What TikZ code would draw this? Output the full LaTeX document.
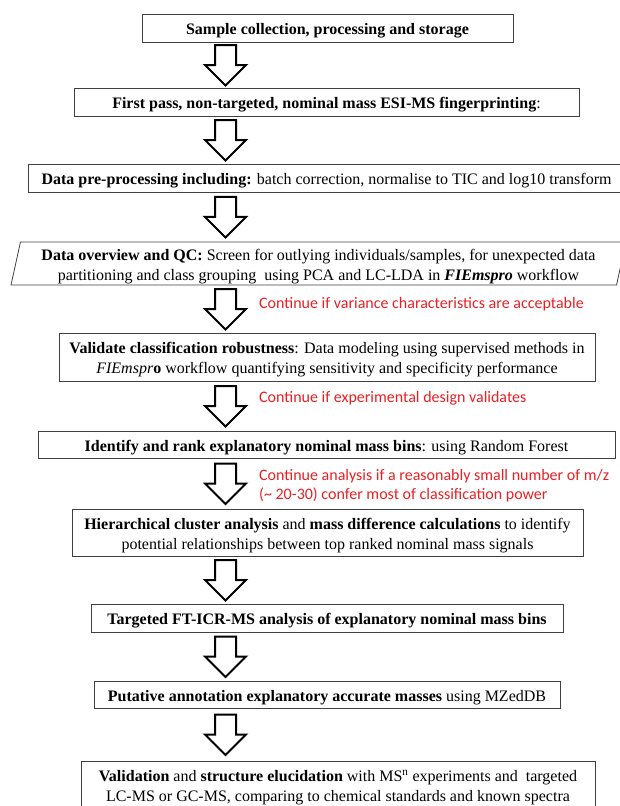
\documentclass[tikz,border=0pt]{standalone}
\usepackage{fontspec}
\setmainfont{Liberation Serif}
\newfontfamily\notefont{Carlito}
\usetikzlibrary{calc,shapes.geometric}
\definecolor{notered}{RGB}{232,32,36}

\tikzstyle{stage} = [draw=black!75,line width=0.8pt,align=center,inner sep=0pt,text height=13pt,text depth=0pt,font=\fontsize{16}{20}\selectfont]
\tikzstyle{stagetwo} = [stage,text height=33pt]
\tikzstyle{note} = [anchor=west,align=left,inner sep=0pt,text=notered,font=\notefont\fontsize{16}{19}\selectfont]
\tikzstyle{hollow} = [draw,line width=2pt,fill=white,
  to path={let \p1=(\tikztostart), \p2=(\tikztotarget), \n1={(\y1+\y2)/2} in
    (\x1-10.5pt,\n1+20pt) -- (\x1+10.5pt,\n1+20pt) -- (\x1+10.5pt,\n1) -- (\x1+20.5pt,\n1)
    -- (\x1,\n1-20.5pt) -- (\x1-20.5pt,\n1) -- (\x1-10.5pt,\n1) -- cycle}]

\begin{document}
\begin{tikzpicture}[x=1pt,y=-1pt]
		\useasboundingbox (0,0) rectangle (619,806);
		\coordinate (ax) at (225.5,0);
		\node[stage,minimum width=371,minimum height=28] (b1) at (327.5,28) {\textbf{Sample collection, processing and storage}};
		\node[stage,minimum width=505,minimum height=28] (b2) at (326.5,102) {\textbf{First pass, non-targeted, nominal mass ESI-MS fingerprinting}:};
		\node[stage,minimum width=597,minimum height=28] (b3) at (326.5,178) {\textbf{Data pre-processing including:} batch correction, normalise to TIC and log10 transform};
		\node[stagetwo,shape=trapezium,trapezium left angle=74,trapezium right angle=106,trapezium stretches body,minimum width=615,minimum height=43] (b4) at (318.5,263.5)
			{\textbf{Data overview and QC:} Screen for outlying individuals/samples, for unexpected data\\ partitioning and class grouping\ \ using PCA and LC-LDA in \textbf{\textit{FIEmspro}} workflow};
		\node[stagetwo,minimum width=536,minimum height=48] (b5) at (327,357)
			{\textbf{Validate classification robustness}: Data modeling using supervised methods in\\ \textit{FIEmspr}\textbf{o} workflow quantifying sensitivity and specificity performance};
		\node[stage,minimum width=577,minimum height=27] (b6) at (326.5,444.5) {\textbf{Identify and rank explanatory nominal mass bins}: using Random Forest};
		\node[stagetwo,minimum width=511,minimum height=47] (b7) at (327.5,532.5)
			{\textbf{Hierarchical cluster analysis} and \textbf{mass difference calculations} to identify\\ potential relationships between top ranked nominal mass signals};
		\node[stage,minimum width=472,minimum height=28] (b8) at (327,618) {\textbf{Targeted FT-ICR-MS analysis of explanatory nominal mass bins}};
		\node[stage,minimum width=466,minimum height=27] (b9) at (327,694.5) {\textbf{Putative annotation explanatory accurate masses} using MZedDB};
		\node[stagetwo,minimum width=514,minimum height=48] (b10) at (338,785)
			{\textbf{Validation} and \textbf{structure elucidation} with MS\textsuperscript{n} experiments and\ \ targeted\\ LC-MS or GC-MS, comparing to chemical standards and known spectra};
		\draw[hollow] (b1.south -| ax) to (b2.north -| ax);
		\draw[hollow] (b2.south -| ax) to (b3.north -| ax);
		\draw[hollow] (b3.south -| ax) to (b4.north -| ax);
		\draw[hollow] (b4.south -| ax) to (b5.north -| ax);
		\draw[hollow] (b5.south -| ax) to (b6.north -| ax);
		\draw[hollow] (b6.south -| ax) to (b7.north -| ax);
		\draw[hollow] (b7.south -| ax) to (b8.north -| ax);
		\draw[hollow] (b8.south -| ax) to (b9.north -| ax);
		\draw[hollow] (b9.south -| ax) to (b10.north -| ax);
		\node[note] (n1) at (259,304) {Continue if variance characteristics are acceptable};
		\node[note] (n2) at (259,398) {Continue if experimental design validates};
		\node[note] (n3) at (259,485.5) {Continue analysis if a reasonably small number of m/z\\(\textasciitilde{} 20-30) confer most of classification power};
\end{tikzpicture}
\end{document}
